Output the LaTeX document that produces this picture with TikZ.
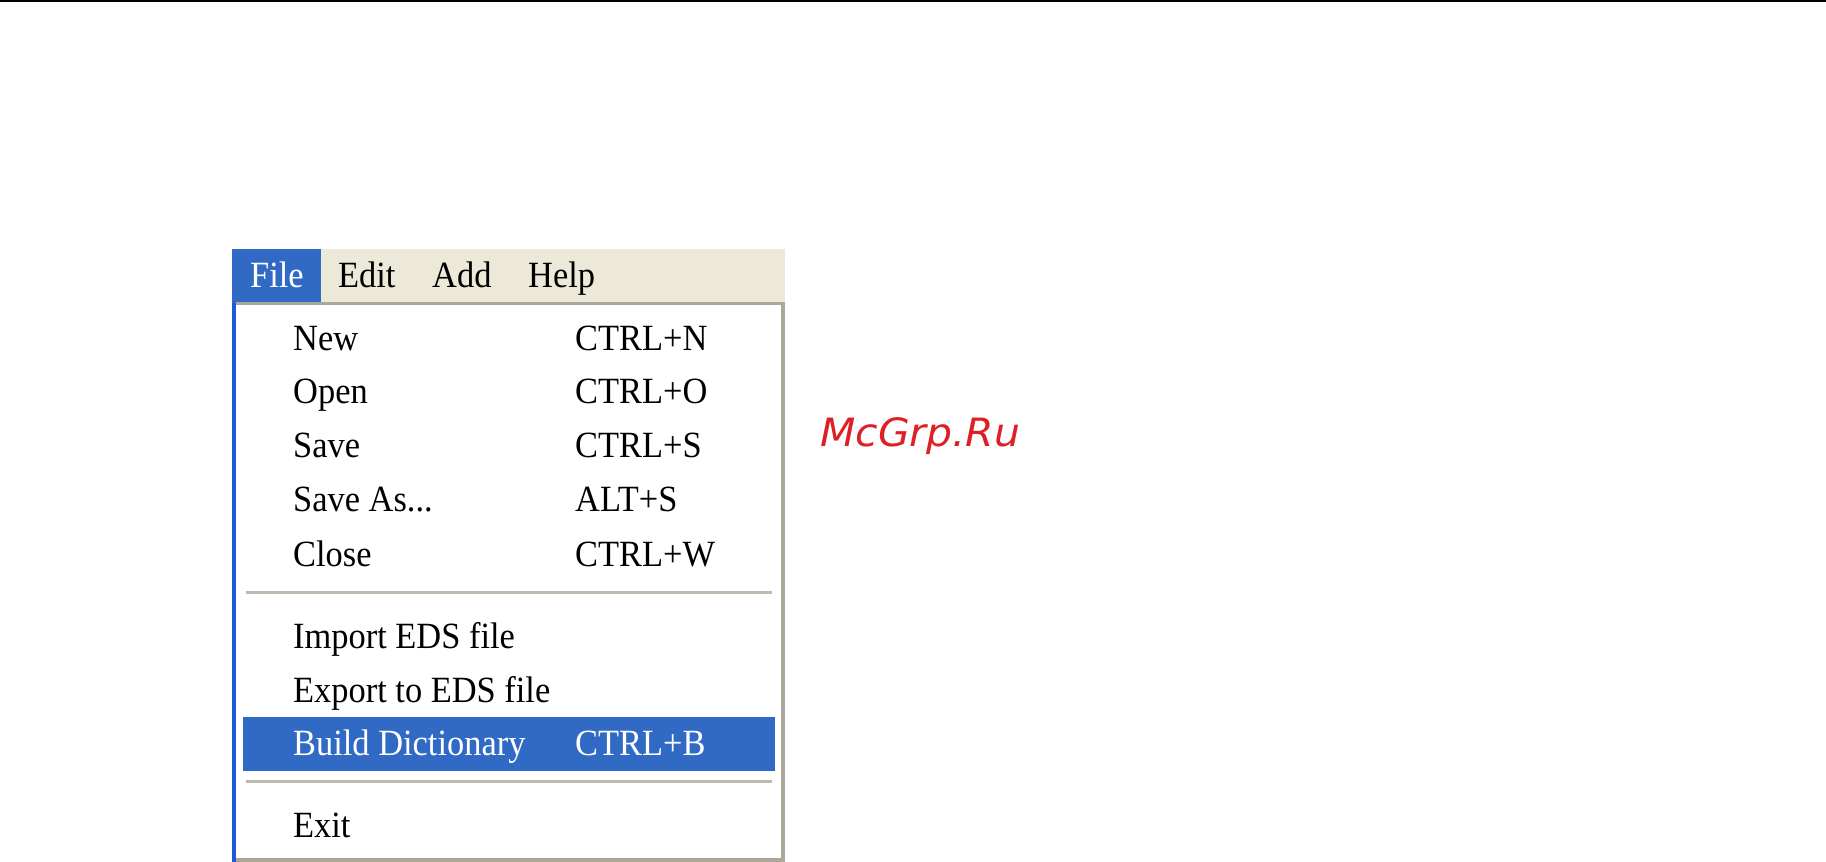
\documentclass[tikz,border=0pt]{standalone}
\usepackage{fontspec}
\setmainfont[FakeStretch=0.93]{Liberation Serif}
\newfontfamily\logofont[FakeStretch=1.05]{DejaVu Sans}
\definecolor{menublue}{RGB}{49,106,197}
\definecolor{menustrip}{RGB}{30,90,215}
\definecolor{menubar}{RGB}{236,233,216}
\definecolor{menuedge}{RGB}{172,168,153}
\definecolor{logored}{RGB}{222,32,38}

\begin{document}
\begin{tikzpicture}[
  x=1pt, y=-1pt,
  font=\fontsize{37}{37}\selectfont,
  menu/.style={anchor=base west, inner sep=0pt, text=black},
  sel/.style={anchor=base west, inner sep=0pt, text=white},
  rule/.style={draw=menuedge!80, line width=3pt}
]
\useasboundingbox (0,0) rectangle (1826,862);

% top rule
\coordinate (tl) at (0,1);
\coordinate (tr) at (1826,1);
\draw[line width=2pt] (tl) -- (tr);

% menu bar and panel
\fill[menubar] (232,249) rectangle (785,303);
\fill[menublue] (232,249) rectangle (321,303);
\fill[menuedge] (236,302) rectangle (785,305);
\fill[menustrip] (232,303) rectangle (236,862);
\fill[menuedge] (781,303) rectangle (785,862);
\fill[menuedge] (236,858) rectangle (785,862);

% highlighted row
\fill[menublue] (243,717) rectangle (775,771);

% separators
\draw[rule] (246,592) -- (772,592);
\draw[rule] (246,781) -- (772,781);

% menu bar
\node[sel] (file) at (250,287) {File};
\node[menu] (edit) at (338,287) {Edit};
\node[menu] (add) at (432,287) {Add};
\node[menu] (help) at (528,287) {Help};

% items
\node[menu] (new) at (293,350) {New};
\node[menu] (open) at (293,403) {Open};
\node[menu] (save) at (293,457) {Save};
\node[menu] (saveas) at (293,511) {Save As...};
\node[menu] (close) at (293,566) {Close};
\node[menu] (import) at (293,648) {Import EDS file};
\node[menu] (export) at (293,702) {Export to EDS file};
\node[sel] (build) at (293,755) {Build Dictionary};
\node[menu] (exit) at (293,837) {Exit};

% shortcuts
\node[menu] (knew) at (575,350) {CTRL+N};
\node[menu] (kopen) at (575,403) {CTRL+O};
\node[menu] (ksave) at (575,457) {CTRL+S};
\node[menu] (ksaveas) at (575,511) {ALT+S};
\node[menu] (kclose) at (575,566) {CTRL+W};
\node[sel] (kbuild) at (575,755) {CTRL+B};

% logo
\node[anchor=base west, inner sep=0pt, text=logored, font=\logofont\itshape\fontsize{39}{39}\selectfont] (logo) at (820,446) {McGrp.Ru};
\end{tikzpicture}
\end{document}
